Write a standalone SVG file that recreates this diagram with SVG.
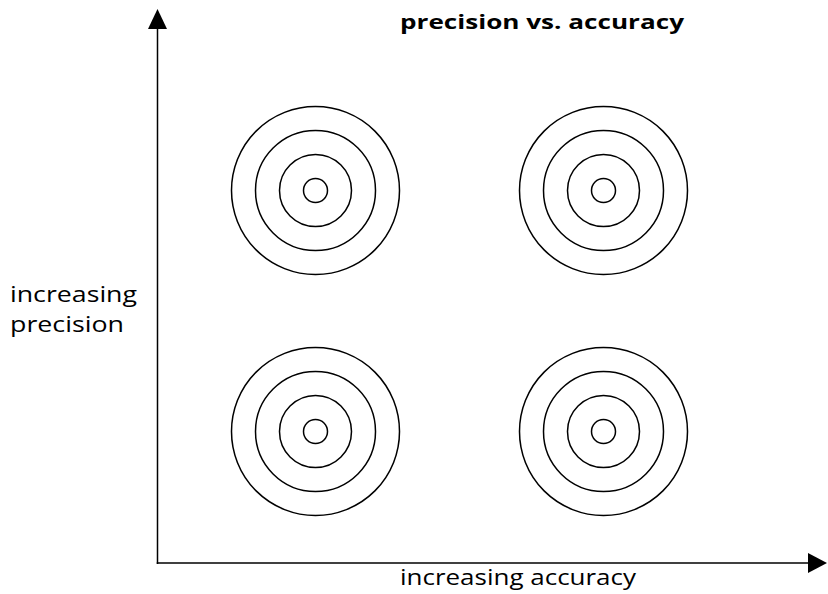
<svg xmlns="http://www.w3.org/2000/svg" width="828" height="594" viewBox="0 0 828 594">
<style>
.ring{fill:none;stroke:#000;stroke-width:1.5}
.ax{stroke:#000;stroke-width:1.5;fill:none}
text{font-family:"Comic Sans MS","Open Sans","DejaVu Sans",sans-serif;fill:#000}
.lbl{font-size:21px}
.ttl{font-size:19px;font-weight:bold}
</style>
<defs>
<g id="target">
<circle class="ring" r="84"/>
<circle class="ring" r="60"/>
<circle class="ring" r="36"/>
<circle class="ring" r="12"/>
</g>
</defs>
<rect width="828" height="594" fill="#fff"/>
<g id="connectors">
<line class="ax" x1="157.5" y1="564" x2="157.5" y2="26"/>
<polygon points="157.5,9 148,29 167,29" fill="#000"/>
<line class="ax" x1="156.75" y1="563" x2="810" y2="563"/>
<polygon points="827,563 808,553 808,573" fill="#000"/>
</g>
<g id="target-tl"><use href="#target" x="315.5" y="190.5"/></g>
<g id="target-tr"><use href="#target" x="603.5" y="190.5"/></g>
<g id="target-bl"><use href="#target" x="315.5" y="431.5"/></g>
<g id="target-br"><use href="#target" x="603.5" y="431.5"/></g>
<g id="title"><text class="ttl" x="400" y="29" textLength="284" lengthAdjust="spacingAndGlyphs">precision vs. accuracy</text></g>
<g id="ylabel">
<text class="lbl" x="10" y="302" textLength="127" lengthAdjust="spacingAndGlyphs">increasing</text>
<text class="lbl" x="10" y="332" textLength="114" lengthAdjust="spacingAndGlyphs">precision</text>
</g>
<g id="xlabel"><text class="lbl" x="400" y="585" textLength="236" lengthAdjust="spacingAndGlyphs">increasing accuracy</text></g>
</svg>
